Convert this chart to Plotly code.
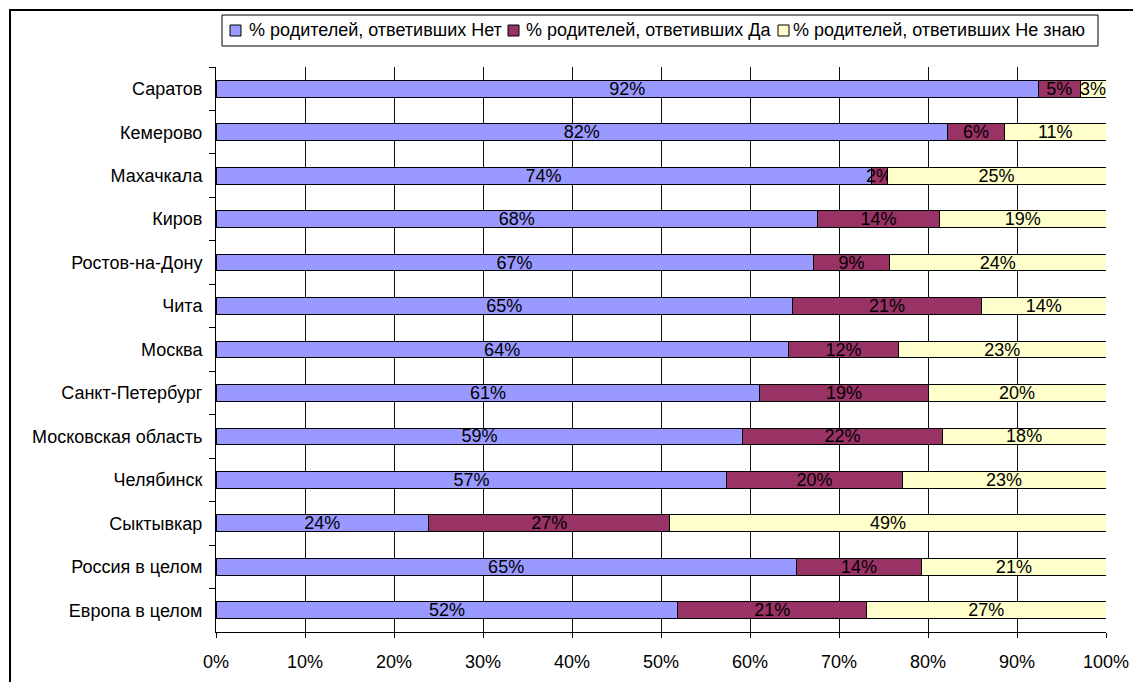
import plotly.graph_objects as go

categories = ["Саратов", "Кемерово", "Махачкала", "Киров", "Ростов-на-Дону", "Чита",
              "Москва", "Санкт-Петербург", "Московская область", "Челябинск",
              "Сыктывкар", "Россия в целом", "Европа в целом"]
no_vals = [92.4, 82.2, 73.6, 67.6, 67.1, 64.8, 64.3, 61.1, 59.2, 57.4, 23.9, 65.2, 51.9]
yes_vals = [4.7, 6.4, 1.8, 13.7, 8.6, 21.2, 12.4, 18.9, 22.4, 19.7, 27.1, 14.1, 21.2]
dk_vals = [2.9, 11.4, 24.6, 18.7, 24.3, 14.0, 23.3, 20.0, 18.4, 22.9, 49.0, 20.7, 26.9]
series_names = ["% родителей, ответивших Нет", "% родителей, ответивших Да",
                "% родителей, ответивших Не знаю"]
colors = ["#9999FF", "#993366", "#FFFFCC"]
x_ticks = [0, 10, 20, 30, 40, 50, 60, 70, 80, 90, 100]
x_tick_text = [f"{v}%" for v in x_ticks]

FONT = "Liberation Sans, Arial, sans-serif"
FS = 18

W, H = 1133, 682
L, R, T, B = 216, 27, 67, 50
pw, ph = W - L - R, H - T - B


def px_x(px):
    return (px - L) / pw


def px_y(py):
    return (H - B - py) / ph


fig = go.Figure()
for name, vals, col in zip(series_names, [no_vals, yes_vals, dk_vals], colors):
    fig.add_trace(go.Bar(
        y=categories, x=vals, name=name, orientation="h",
        marker=dict(color=col, line=dict(color="black", width=1)),
        texttemplate="%{x:.0f}%", textposition="inside", insidetextanchor="middle",
        textangle=0, constraintext="none",
        textfont=dict(family=FONT, size=FS, color="black"),
        hoverinfo="skip", showlegend=False,
    ))

# manual legend (Excel-style compact layout)
legend_sq_px = [230, 508, 778]
legend_txt_px = [247, 524, 791]
legend_top, legend_bot = 15, 46
legend_mid = (legend_top + legend_bot) / 2
shapes = [
    dict(type="rect", xref="paper", yref="paper",
         x0=px_x(222), x1=px_x(1098), y0=px_y(legend_bot), y1=px_y(legend_top),
         line=dict(color="black", width=1), fillcolor="white"),
]
annotations = []
for name, col, sx, tx in zip(series_names, colors, legend_sq_px, legend_txt_px):
    shapes.append(dict(type="rect", xref="paper", yref="paper",
                       x0=px_x(sx), x1=px_x(sx + 11),
                       y0=px_y(legend_mid + 5.5), y1=px_y(legend_mid - 5.5),
                       line=dict(color="black", width=1), fillcolor=col))
    annotations.append(dict(text=name, xref="paper", yref="paper",
                            x=px_x(tx), y=px_y(legend_mid), xanchor="left", yanchor="middle",
                            showarrow=False, font=dict(family=FONT, size=FS, color="black")))

# outer chart frame (left and top edges visible)
shapes.append(dict(type="rect", xref="paper", yref="paper",
                   x0=px_x(10), x1=px_x(W + 20),
                   y0=px_y(H + 20), y1=px_y(10),
                   line=dict(color="black", width=2), fillcolor="rgba(0,0,0,0)", layer="below"))

fig.update_layout(
    width=W, height=H, barmode="stack", bargap=0.615,
    margin=dict(l=L, r=R, t=T, b=B, autoexpand=False),
    paper_bgcolor="white", plot_bgcolor="white",
    font=dict(family=FONT, size=FS, color="black"),
    uniformtext=dict(minsize=FS, mode="show"),
    showlegend=False,
    xaxis=dict(
        range=[0, 100], tickvals=x_ticks, ticktext=x_tick_text,
        showgrid=True, gridcolor="#111111", gridwidth=1,
        showline=True, linecolor="black", linewidth=1,
        ticks="outside", ticklen=5, tickcolor="black",
        ticklabelstandoff=8, zeroline=False,
        tickfont=dict(family=FONT, size=FS, color="black"),
    ),
    yaxis=dict(
        categoryorder="array", categoryarray=categories, autorange="reversed",
        showline=True, linecolor="black", linewidth=1,
        ticks="outside", ticklen=6, tickcolor="black", tickson="boundaries",
        showgrid=False, ticklabelstandoff=9,
        tickfont=dict(family=FONT, size=FS, color="black"),
    ),
    shapes=shapes,
    annotations=annotations,
)

fig.write_html("out.html", config={"displayModeBar": False},
               post_script="document.body.style.margin='0px';")
